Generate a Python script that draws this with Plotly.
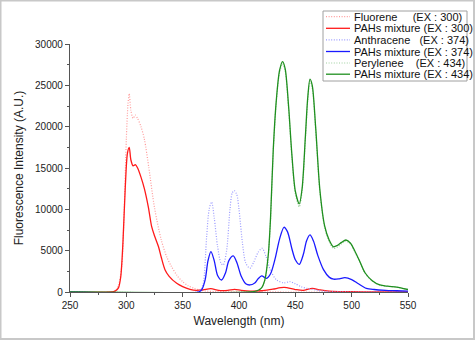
import plotly.graph_objects as go

# ---------------- data ----------------
fluorene_wl = [250, 285, 290, 293, 296, 298, 300, 301.5, 302.6, 304, 306, 308, 310, 313, 316, 320, 325, 331, 336,
               340, 345, 350, 355, 360, 365, 370, 380, 400, 450, 500, 550]
fluorene_int = [0, 0, 150, 800, 3200, 9500, 18500, 22800, 24000, 22000, 21000, 21400, 21000, 20000, 18500, 15000,
                10200, 6300, 4200, 3100, 2000, 1250, 750, 450, 250, 120, 50, 20, 0, 0, 0]

mix300_wl = [250, 286, 290, 293, 295, 297, 299, 301, 302.6, 304, 306, 308, 310, 313, 316, 319.5, 322.5, 325, 328.5,
             331, 334.3, 338, 344.7, 350, 356.5, 362, 368, 375, 382, 390, 396, 402, 410, 420, 430, 440, 450, 457,
             465, 472, 480, 490, 500, 520, 550]
mix300_int = [0, 0, 100, 500, 1800, 6000, 12500, 16800, 17500, 16000, 15250, 15400, 15000, 13900, 12500, 10300, 7900,
              6800, 5500, 4200, 2700, 1900, 1050, 650, 330, 200, 250, 400, 200, 200, 320, 200, 100, 150, 350, 550,
              300, 200, 450, 250, 100, 50, 30, 0, 0]

anthracene_wl = [250, 362, 366, 368.3, 371.3, 373.5, 375.7, 378, 381, 384, 386, 389, 392, 394, 395.8, 398, 400, 403,
                 406, 409.7, 413, 417, 420.6, 424, 428, 433.4, 440, 445.2, 450, 455, 460, 470, 480, 550]
anthracene_int = [0, 0, 300, 1050, 6700, 10000, 10900, 9000, 5500, 3500, 3270, 5000, 10000, 12000, 12260, 11800,
                  10000, 6000, 3500, 2870, 3600, 4800, 5290, 4300, 2600, 1450, 1100, 1250, 1000, 650, 450, 200, 50, 0]

mix374_wl = [250, 364, 367, 370, 372.5, 375.1, 378, 381, 384.6, 388, 391, 394.9, 398, 402, 406, 409.7, 414, 417,
             420.1, 424.5, 428, 432, 436, 439.9, 443, 447, 450, 453.5, 457, 460, 463, 466, 470, 475, 480, 484, 489,
             494, 500, 506, 513, 520, 530, 540, 550]
mix374_int = [0, 0, 300, 1500, 3800, 4880, 3800, 2000, 1450, 2300, 3800, 4360, 3600, 1900, 1000, 850, 1100, 1600,
              1940, 1650, 2200, 4000, 6400, 7830, 7300, 5200, 3900, 3350, 4500, 6200, 6900, 6200, 4400, 2700, 1800,
              1550, 1600, 1730, 1500, 1000, 450, 300, 200, 150, 100]

perylene_wl = [250, 410, 416, 420, 423, 426, 428, 430.4, 433, 436, 438.7, 441, 444, 447, 450, 453.5, 456, 459, 461,
               463, 465, 468, 471.8, 476, 480, 483.6, 487, 491, 494.9, 499, 503, 507.3, 512, 518, 525, 532, 540,
               545, 550]
perylene_int = [0, 0, 150, 480, 1450, 4400, 8800, 17000, 22800, 26500, 27600, 26700, 22200, 16200, 11900, 10300,
                12200, 18700, 23200, 25500, 24700, 19700, 12100, 7800, 6100, 5300, 5400, 5850, 6150, 5800, 4800,
                3600, 2250, 1350, 820, 680, 580, 430, 290]

mix434_wl = [250, 410, 416, 420, 423, 426, 428, 430.4, 433, 436, 438.7, 441, 444, 447, 450, 453.5, 456, 459, 461,
             463, 465, 468, 471.8, 476, 480, 483.6, 487, 491, 494.9, 499, 503, 507.3, 512, 518, 525, 532, 540, 545, 550]
mix434_int = [0, 0, 150, 500, 1500, 4500, 9000, 17200, 23000, 26800, 27870, 27000, 22500, 16500, 12200, 10650,
              12500, 19000, 23500, 25740, 25000, 20000, 12340, 8000, 6300, 5480, 5600, 6000, 6290, 5900, 4900, 3670,
              2300, 1400, 850, 700, 600, 450, 300]

series_names = ["Fluorene", "PAHs mixture", "Anthracene", "PAHs mixture", "Perylenee", "PAHs mixture"]
series_ex = ["(EX : 300)", "(EX : 300)", "(EX : 374)", "(EX : 374)", "(EX : 434)", "(EX : 434)"]
legend_gaps = [5, 1, 3, 1, 4, 1]
series_x = [fluorene_wl, mix300_wl, anthracene_wl, mix374_wl, perylene_wl, mix434_wl]
series_y = [fluorene_int, mix300_int, anthracene_int, mix374_int, perylene_int, mix434_int]
series_color = ["#ff9a9a", "#ff1a1a", "#9a9aff", "#1a1aff", "#9fd09f", "#1f8f1f"]
series_dash = ["1px,1.6px", "solid", "1px,1.6px", "solid", "1px,1.6px", "solid"]

x_ticks = [250, 300, 350, 400, 450, 500, 550]
y_ticks = [0, 5000, 10000, 15000, 20000, 25000, 30000]

# ---------------- layout geometry ----------------
W, H = 475, 340
ML, MR, MT, MB = 70, 67, 44, 48
PW, PH = W - ML - MR, H - MT - MB


def px_x(px):
    return (px - ML) / PW


def px_y(py):
    return (H - MB - py) / PH


fig = go.Figure()
for name, ex, xs, ys, c, d in zip(series_names, series_ex, series_x, series_y, series_color, series_dash):
    fig.add_trace(go.Scatter(
        x=xs, y=ys, mode="lines", name=f"{name} {ex}",
        line=dict(color=c, width=1.3 if d == "solid" else 1.2, dash=d, shape="spline", smoothing=0.8),
        showlegend=False, hoverinfo="skip"))

# custom compact legend
shapes = []
annotations = []
shapes.append(dict(type="rect", xref="paper", yref="paper",
                   x0=px_x(323), x1=px_x(467), y0=px_y(81), y1=px_y(11),
                   line=dict(color="#a0a0a0", width=1), fillcolor="white", layer="above"))
row_y = [16.7, 28.3, 39.8, 51.5, 63, 74.2]
for i, (name, ex, c, d, g) in enumerate(zip(series_names, series_ex, series_color, series_dash, legend_gaps)):
    yy = px_y(row_y[i])
    shapes.append(dict(type="line", xref="paper", yref="paper", x0=px_x(326), x1=px_x(350), y0=yy, y1=yy,
                       line=dict(color=c, width=1.3 if d == "solid" else 1.2, dash=d), layer="above"))
    annotations.append(dict(xref="paper", yref="paper", x=px_x(352), y=yy, xanchor="left", yanchor="middle",
                            text=name + "\u00a0" * g + ex, showarrow=False,
                            font=dict(family="Arial, Liberation Sans", size=11, color="#111")))

# image border
shapes.append(dict(type="rect", xref="paper", yref="paper",
                   x0=px_x(0.5), x1=px_x(474), y0=px_y(339), y1=px_y(0.5),
                   line=dict(color="#c8c8c8", width=2), layer="below"))

axis_common = dict(showline=True, linecolor="#555555", linewidth=1.3, ticks="outside", ticklen=4,
                   tickcolor="#555555", tickwidth=1.2, showgrid=False, zeroline=False, mirror=False,
                   tickfont=dict(family="Arial, Liberation Sans", size=10, color="#222"))

fig.update_layout(
    width=W, height=H, margin=dict(l=ML, r=MR, t=MT, b=MB),
    paper_bgcolor="white", plot_bgcolor="white",
    shapes=shapes, annotations=annotations,
    xaxis=dict(range=[250, 550], tickvals=x_ticks, ticktext=[str(v) for v in x_ticks],
               minor=dict(ticks="outside", ticklen=2, dtick=25, tickcolor="#555555"),
               title=dict(text="Wavelength (nm)", font=dict(family="Arial, Liberation Sans", size=12, color="#222"),
                          standoff=6),
               **axis_common),
    yaxis=dict(range=[0, 30000], tickvals=y_ticks, ticktext=[str(v) for v in y_ticks],
               minor=dict(ticks="outside", ticklen=2, dtick=2500, tickcolor="#555555"),
               title=dict(text="Fluorescence Intensity (A.U.)",
                          font=dict(family="Arial, Liberation Sans", size=12, color="#222"), standoff=8),
               **axis_common),
)

fig.write_html("out.html")
